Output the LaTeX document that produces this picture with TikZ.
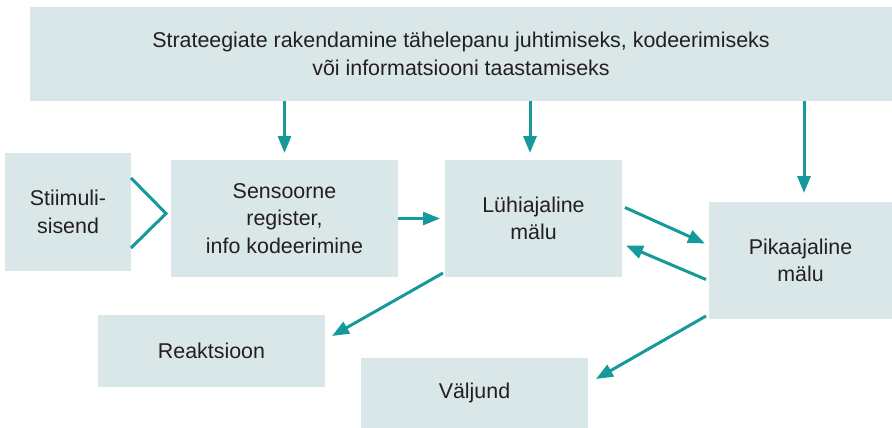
\documentclass[tikz,border=0pt]{standalone}
\usepackage{fontspec}
\setmainfont{Liberation Sans}
\usetikzlibrary{arrows.meta,calc}
\definecolor{boxfill}{HTML}{DAE7E8}
\definecolor{tealarr}{HTML}{16999A}
\definecolor{txt}{HTML}{231F20}
\begin{document}
\begin{tikzpicture}[x=1pt,y=-1pt,
  box/.style={fill=boxfill, draw=none, inner sep=0pt, outer sep=0pt, anchor=north west,
    align=center, text=txt, font=\fontsize{21.4}{27.5}\selectfont},
  arr/.style={draw=tealarr, line width=3pt, -{Triangle[length=17pt,width=13pt]}},
  chev/.style={draw=tealarr, line width=3pt}
]
\useasboundingbox (0,0) rectangle (892,428);
\node[box, minimum width=862pt, minimum height=94pt] (top) at (30,7)
  {Strateegiate rakendamine tähelepanu juhtimiseks, kodeerimiseks\\või informatsiooni taastamiseks};
\node[box, minimum width=126pt, minimum height=118pt] (stim) at (5,153) {Stiimuli-\\sisend};
\node[box, minimum width=227pt, minimum height=117pt] (sens) at (171,160) {Sensoorne\\register,\\info kodeerimine};
\node[box, minimum width=177pt, minimum height=117pt] (luhi) at (445,160) {Lühiajaline\\mälu};
\node[box, minimum width=183pt, minimum height=117pt] (pika) at (709,202) {Pikaajaline\\mälu};
\node[box, minimum width=227pt, minimum height=72pt] (reak) at (98,315) {Reaktsioon};
\node[box, minimum width=227pt, minimum height=70pt] (valj) at (361,358) {Väljund};

% chevron
\coordinate (chtip) at ($(sens.west)+(-5,-5)$);
\draw[chev] ($(stim.east)+(0,-34)$) -- (chtip) -- ($(stim.east)+(0,36)$);

% arrows from top box
\draw[arr] (top.south -| sens.north) -- ([yshift=7pt]sens.north);
\draw[arr] ([xshift=-3.5pt]top.south -| luhi.north) -- ([xshift=-3.5pt,yshift=7pt]luhi.north);
\draw[arr] ([xshift=3.5pt]top.south -| pika.north) -- ([xshift=3.5pt,yshift=9pt]pika.north);

% horizontal
\draw[arr] (sens.east) -- ([xshift=-5pt]sens.east -| luhi.west);

% between memories
\draw[arr] ($(luhi.east)+(3,-11)$) -- ($(pika.west)+(-4,-17)$);
\draw[arr] ($(pika.west)+(-3,19)$) -- ($(luhi.east)+(4,27)$);

% downward diagonals
\draw[arr] ($(luhi.south west)+(-2,-4)$) -- ($(reak.east)+(7,-15)$);
\draw[arr] ($(pika.south west)+(-3,-3)$) -- ($(valj.east)+(8,-14)$);
\end{tikzpicture}
\end{document}
